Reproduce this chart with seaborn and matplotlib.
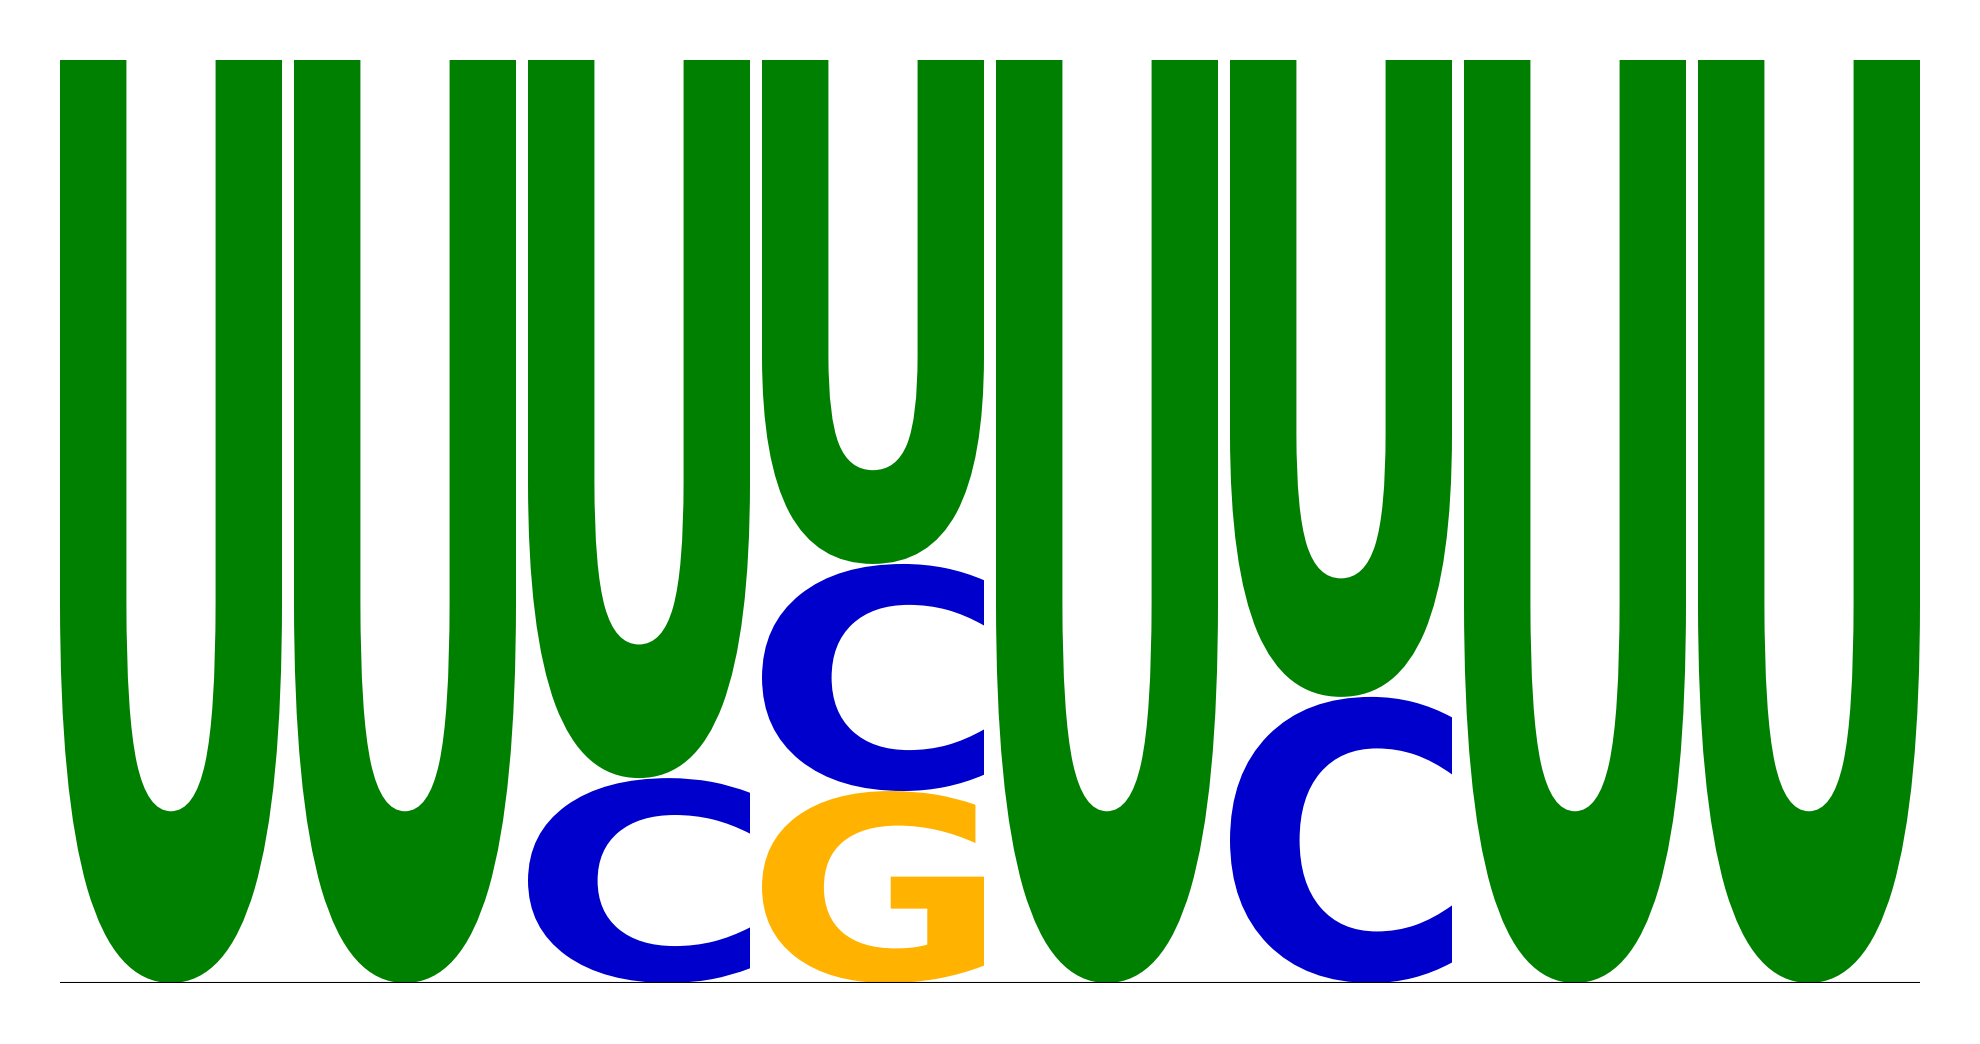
import numpy as np
import pandas as pd
import matplotlib
matplotlib.use('Agg')
import matplotlib.pyplot as plt
import seaborn as sns
from matplotlib.textpath import TextPath
from matplotlib.patches import PathPatch
from matplotlib.font_manager import FontProperties
from matplotlib.transforms import Affine2D

# letter probabilities per position
positions = [1, 2, 3, 4, 5, 6, 7, 8]
prob_C = [0.0, 0.0, 0.222, 0.246, 0.0, 0.310, 0.0, 0.0]
prob_G = [0.0, 0.0, 0.0, 0.208, 0.0, 0.0, 0.0, 0.0]
prob_U = [1.0, 1.0, 0.778, 0.546, 1.0, 0.690, 1.0, 1.0]

colors = {'C': '#0000CC', 'G': '#FFB300', 'U': '#008000'}

df = pd.DataFrame({'pos': positions, 'C': prob_C, 'G': prob_G, 'U': prob_U})

sns.set_style('white')
fp = FontProperties(family='DejaVu Sans', weight='bold')

fig = plt.figure(figsize=(19.8, 10.44), dpi=100)
ax = fig.add_axes([60 / 1980, 61 / 1044, 1860 / 1980, 923 / 1044])

pitch = 1.0
width = 222 / 234


def draw_letter(ax, ch, x, y, w, h):
    tp = TextPath((0, 0), ch, size=1, prop=fp)
    bb = tp.get_extents()
    tr = (Affine2D().translate(-bb.x0, -bb.y0)
          .scale(w / bb.width, h / bb.height)
          .translate(x, y))
    path = tr.transform_path(tp)
    ax.add_patch(PathPatch(path, facecolor=colors[ch], edgecolor='none', lw=0))


for i, row in df.iterrows():
    x0 = (row['pos'] - 1) * pitch
    stack = sorted([(row[c], c) for c in ['C', 'G', 'U'] if row[c] > 0])
    y = 0.0
    for p, ch in stack:
        draw_letter(ax, ch, x0, y, width, p)
        y += p

ax.axhline(0, color='black', lw=1.5)
ax.set_xlim(0, 7 + width)
ax.set_ylim(0, 1)
ax.axis('off')

fig.savefig('out.png', dpi=100, facecolor='white')
